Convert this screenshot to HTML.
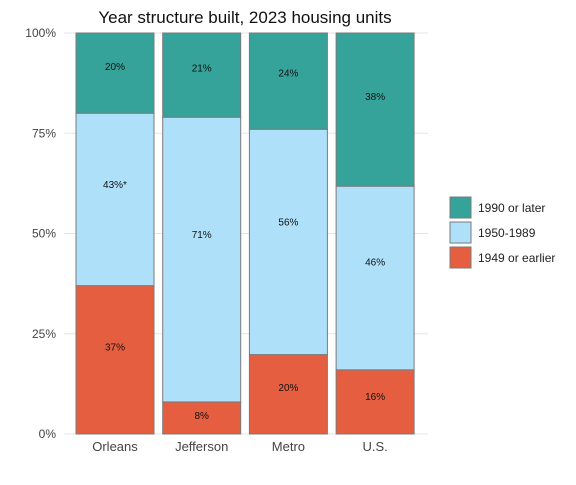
<!DOCTYPE html>
<html><head><meta charset="utf-8"><style>
body{margin:0;background:#fff;font-family:"Liberation Sans",sans-serif}
</style></head><body>
<svg width="576" height="480" xmlns="http://www.w3.org/2000/svg">
<text x="245" y="23" text-anchor="middle" font-size="17" fill="#111">Year structure built, 2023 housing units</text>
<g id="grid"></g><g id="bars"></g><g id="axes"></g><g id="legend"></g>
</svg>
<script>
const categories=["Orleans","Jefferson","Metro","U.S."];
const pre1949=[37,8,19.8,16];
const mid=[43,71,56.2,45.8];
const post1990=[20,21,24,38.2];
const labelsPre=["37%","8%","20%","16%"];
const labelsMid=["43%*","71%","56%","46%"];
const labelsPost=["20%","21%","24%","38%"];
const ticks=[0,25,50,75,100];
const seriesNames=["1990 or later","1950-1989","1949 or earlier"];
const colors=["#36a39a","#aee0fa","#e65e40"];
const NS="http://www.w3.org/2000/svg";
const x0=64,x1=428,yTop=33,yBot=434;
const y=v=>yBot-(yBot-yTop)*v/100;
const step=86.7, bw=78;
const bx=i=>76+step*i;
function mk(tag,attrs,parent,text){const e=document.createElementNS(NS,tag);for(const k in attrs)e.setAttribute(k,attrs[k]);if(text!==undefined)e.textContent=text;parent.appendChild(e);return e;}
const grid=document.getElementById('grid'),bars=document.getElementById('bars'),axes=document.getElementById('axes'),legend=document.getElementById('legend');
ticks.forEach(t=>{
 const l=mk('line',{x1:x0,x2:x1,y1:y(t),y2:y(t),stroke:'#e6e6e6','stroke-width':1},grid);
 
 
 const tx=mk('text',{x:56,y:y(t)+4,'text-anchor':'end','font-size':12,fill:'#444'},axes,t+'%');
 
 
});
categories.forEach((c,i)=>{
 const segs=[[0,pre1949[i],colors[2],labelsPre[i]],[pre1949[i],pre1949[i]+mid[i],colors[1],labelsMid[i]],[pre1949[i]+mid[i],pre1949[i]+mid[i]+post1990[i],colors[0],labelsPost[i]]];
 segs.forEach((s,j)=>{
  const r=mk('rect',{x:bx(i),y:y(s[1]),width:bw,height:y(s[0])-y(s[1]),fill:s[2],stroke:'#7a7a7a','stroke-width':1},bars);
  
  
  const t=mk('text',{x:bx(i)+bw/2,y:y(s[1])+0.41*(y(s[0])-y(s[1]))+4,'text-anchor':'middle','font-size':10,fill:'#111'},bars,s[3]);
  
  
 });
 const xl=mk('text',{x:bx(i)+bw/2,y:451,'text-anchor':'middle','font-size':13,fill:'#444'},axes,c);
 
 
});
seriesNames.forEach((n,k)=>{
 const r=mk('rect',{x:450,y:197+k*25,width:21,height:21,fill:colors[k],stroke:'#7a7a7a'},legend);
 
 
 const t=mk('text',{x:478,y:212+k*25,'font-size':12,fill:'#222'},legend,n);
 
 
});
</script>
</body></html>
